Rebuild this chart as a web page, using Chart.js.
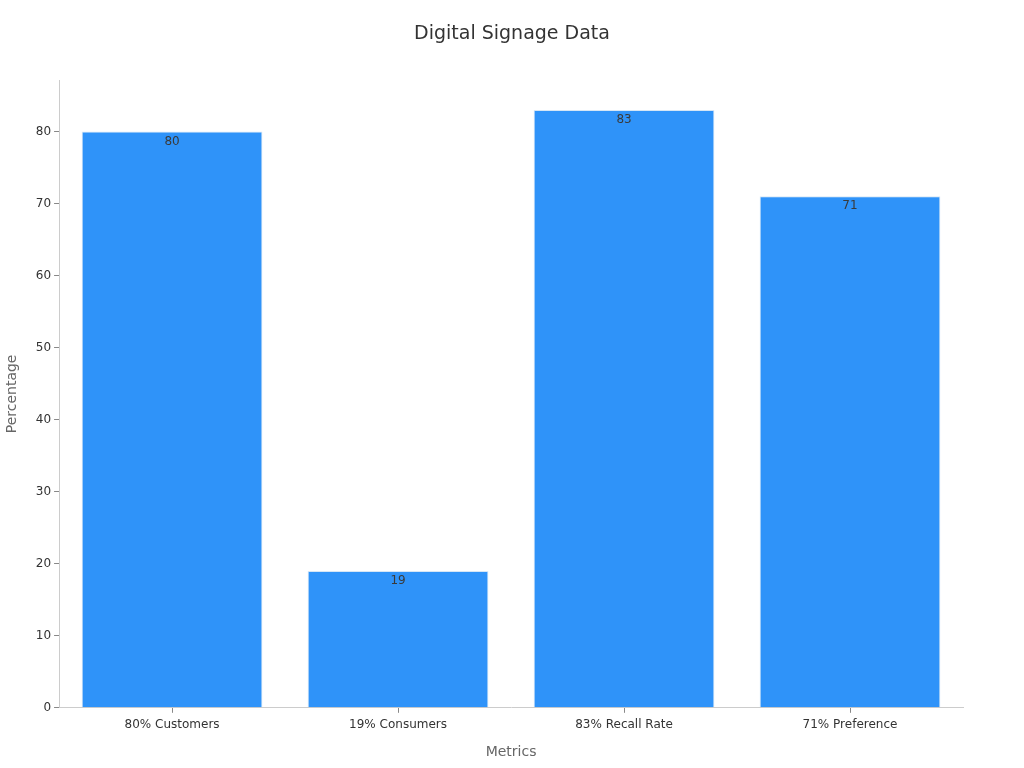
<!DOCTYPE html>
<html>
<head>
<meta charset="utf-8">
<script src="https://cdn.jsdelivr.net/npm/chart.js@4"></script>
<style>
    html, body { margin: 0; padding: 0; background: #fff; }
    #wrap { width: 1024px; height: 768px; }
</style>
</head>
<body>
<div id="wrap"><canvas id="signageChart"></canvas></div>
<script>
const categories = ['80% Customers', '19% Consumers', '83% Recall Rate', '71% Preference'];
const percentages = [80, 19, 83, 71];
const yTicks = [0, 10, 20, 30, 40, 50, 60, 70, 80];
const chartTitle = 'Digital Signage Data';

// draws the value just under the top of each bar
const barValueLabels = {
    id: 'barValueLabels',
    afterDatasetsDraw(chart) {
        const ctx = chart.ctx;
        const meta = chart.getDatasetMeta(0);
        ctx.save();
        ctx.font = '12px "DejaVu Sans"';
        ctx.fillStyle = '#3a3a3a';
        ctx.textAlign = 'center';
        ctx.textBaseline = 'top';
        meta.data.forEach((bar, i) => {
            ctx.fillText(percentages[i], bar.x, bar.y + 4);
        });
        ctx.restore();
    }
};

// title centred on the whole canvas, not on the padded box
const pageTitle = {
    id: 'pageTitle',
    afterDraw(chart) {
        const ctx = chart.ctx;
        ctx.save();
        ctx.font = '19px "DejaVu Sans"';
        ctx.fillStyle = '#333';
        ctx.textAlign = 'center';
        ctx.textBaseline = 'middle';
        ctx.fillText(chartTitle, chart.width / 2, 34);
        ctx.restore();
    }
};

function createSignageChart() {
    const ctx = document.getElementById('signageChart').getContext('2d');
    Chart.defaults.font.family = '"DejaVu Sans", sans-serif';

    new Chart(ctx, {
        type: 'bar',
        data: {
            labels: categories,
            datasets: [{
                label: 'Percentage',
                data: percentages,
                backgroundColor: '#2f93f9',
                borderColor: '#d6e6f5',
                borderWidth: 1,
                categoryPercentage: 0.8,
                barPercentage: 1.0
            }]
        },
        options: {
            responsive: true,
            maintainAspectRatio: false,
            animation: false,
            layout: {
                padding: { top: 80, right: 61, bottom: 3, left: 0 }
            },
            plugins: {
                legend: { display: false },
                tooltip: { enabled: false },
                title: { display: false }
            },
            scales: {
                y: {
                    min: 0,
                    max: 87.15,
                    afterBuildTicks(axis) {
                        axis.ticks = yTicks.map(v => ({ value: v }));
                    },
                    border: { color: '#ccc' },
                    grid: {
                        drawOnChartArea: false,
                        drawTicks: true,
                        tickLength: 5,
                        color: '#888'
                    },
                    ticks: {
                        color: '#333',
                        font: { size: 12 },
                        padding: 3
                    },
                    title: {
                        display: true,
                        text: 'Percentage',
                        color: '#666',
                        font: { size: 14 },
                        padding: { bottom: 12 }
                    }
                },
                x: {
                    border: { color: '#ccc' },
                    grid: {
                        offset: false,
                        drawOnChartArea: false,
                        drawTicks: true,
                        tickLength: 5,
                        color: '#888'
                    },
                    ticks: {
                        color: '#333',
                        font: { size: 12 },
                        padding: 5
                    },
                    title: {
                        display: true,
                        text: 'Metrics',
                        color: '#666',
                        font: { size: 14 },
                        padding: { top: 7 }
                    }
                }
            }
        },
        plugins: [barValueLabels, pageTitle]
    });
}

document.addEventListener('DOMContentLoaded', createSignageChart);
</script>
</body>
</html>
